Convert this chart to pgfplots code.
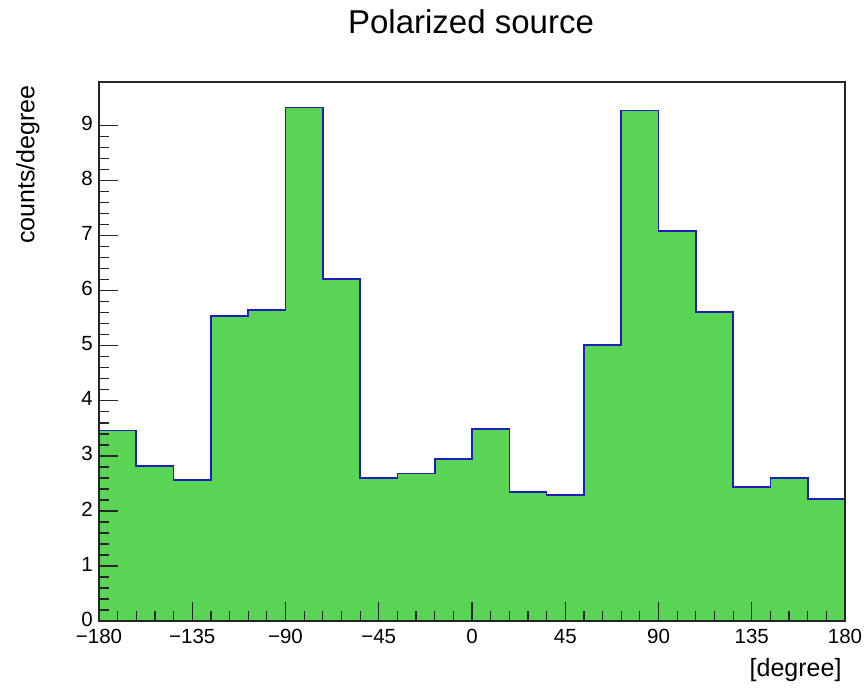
\documentclass[border=0pt]{standalone}
\usepackage{pgfplots}
\pgfplotsset{compat=1.18}
\usepackage{fontspec}
\setmainfont{Liberation Sans}
\definecolor{histfill}{RGB}{89,212,84}
\definecolor{histline}{RGB}{30,30,190}
\begin{document}
\begin{tikzpicture}
\useasboundingbox (-99pt,-70pt) rectangle (765pt,621pt);
\begin{axis}[
  scale only axis, width=746pt, height=539pt,
  xmin=-180, xmax=180, ymin=0, ymax=9.795,
  xtick={-180,-135,-90,-45,0,45,90,135,180},
  xticklabels={−180,−135,−90,−45,0,45,90,135,180},
  ytick={0,1,2,3,4,5,6,7,8,9},
  yticklabels={0,1,2,3,4,5,6,7,8,9},
  minor x tick num=4, minor y tick num=4,
  xtick pos=bottom, ytick pos=left, tick align=inside,
  major tick length=19pt, minor tick length=10pt,
  axis on top,
  axis line style={line width=1.2pt, black!85},
  every tick/.style={black!85, line width=1.2pt},
  tick label style={font=\fontsize{20.5}{24}\selectfont},
  xticklabel style={inner sep=2pt, yshift=-6pt},
  yticklabel style={inner sep=2pt, xshift=-4pt, yshift=2pt},
  title={Polarized source},
  title style={at={(axis description cs:0.4987,1.1002)}, anchor=center, font=\fontsize{33}{38}\selectfont},
  xlabel={[degree]},
  xlabel style={at={(axis description cs:1,-0.0909)}, anchor=east, font=\fontsize{25}{30}\selectfont},
  ylabel={counts/degree},
  ylabel style={at={(axis description cs:-0.0952,1)}, anchor=east, font=\fontsize{25}{30}\selectfont},
]
\addplot[const plot mark left, fill=histfill, draw=histline, line width=1.6pt] coordinates {
(-180,0) (-180,3.46) (-162,2.82) (-144,2.56) (-126,5.54) (-108,5.65)
(-90,9.33) (-72,6.21) (-54,2.60) (-36,2.68) (-18,2.94)
(0,3.49) (18,2.34) (36,2.29) (54,5.02) (72,9.28)
(90,7.09) (108,5.62) (126,2.44) (144,2.60) (162,2.22) (180,2.22) (180,0)
};
\end{axis}
\end{tikzpicture}
\end{document}
